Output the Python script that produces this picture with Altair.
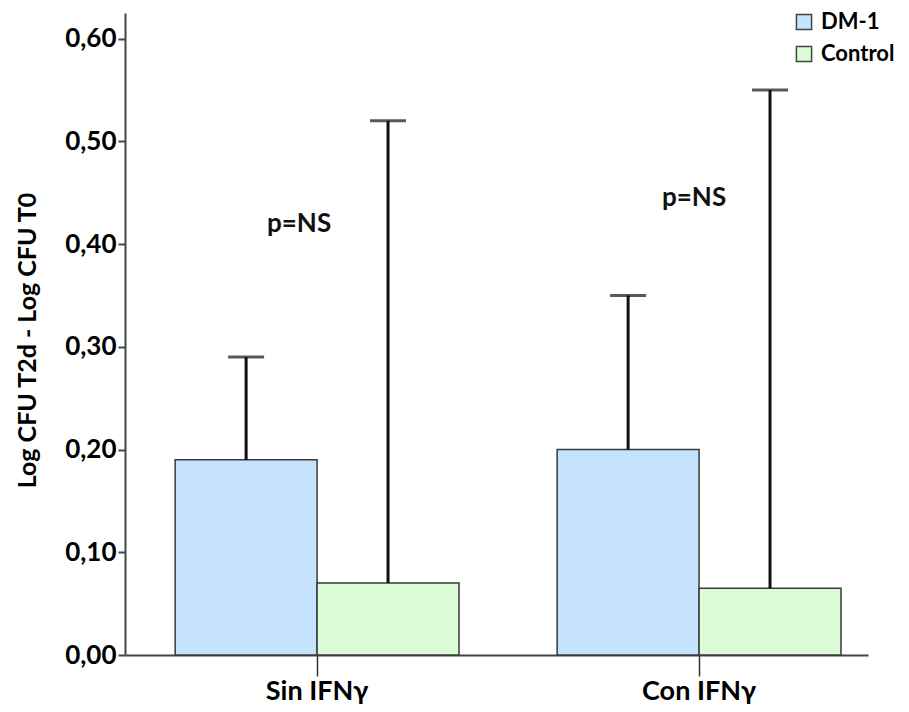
import altair as alt
import pandas as pd

categories = ["Sin IFNγ", "Sin IFNγ", "Con IFNγ", "Con IFNγ"]
groups = ["DM-1", "Control", "DM-1", "Control"]
means = [0.19, 0.07, 0.20, 0.065]
uppers = [0.29, 0.52, 0.35, 0.55]

note_categories = ["Sin IFNγ", "Con IFNγ"]
note_values = [0.42, 0.445]
note_texts = ["p=NS", "p=NS"]

cat_order = ["Sin IFNγ", "Con IFNγ"]
group_order = ["DM-1", "Control"]
colors = ["#c5e3fd", "#dcfcd8"]

df = pd.DataFrame({"cat": categories, "group": groups, "mean": means, "upper": uppers})
notes = pd.DataFrame({"cat": note_categories, "y": note_values, "t": note_texts})

FONT = "Lato"
W, H = 743, 642

xscale = alt.Scale(domain=cat_order, paddingInner=0.257, paddingOuter=0.101, align=0.65)
x = alt.X("cat:N", scale=xscale, sort=cat_order,
          axis=alt.Axis(title=None, labelAngle=0, labelFontSize=27, labelFont=FONT,
                        labelFontWeight="bold", labelColor="#000", tickSize=21,
                        tickColor="#333", tickWidth=1.5, domainColor="#444", domainWidth=2,
                        labelPadding=2, grid=False))
xoff = alt.XOffset("group:N", sort=group_order, scale=alt.Scale(domain=group_order, paddingInner=0, paddingOuter=0))
yscale = alt.Scale(domain=[0, 0.625], nice=False, zero=True)

bars = alt.Chart(df).mark_bar(stroke="#3a3a3a", strokeWidth=1.5).encode(
    x=x,
    xOffset=xoff,
    y=alt.Y("mean:Q", scale=yscale,
            axis=alt.Axis(title="Log CFU T2d - Log CFU T0", values=[0, 0.1, 0.2, 0.3, 0.4, 0.5, 0.6],
                          labelExpr="replace(format(datum.value, '.2f'), '.', ',')",
                          labelFontSize=26, labelFont=FONT, labelFontWeight="bold", labelColor="#000",
                          tickSize=7, tickColor="#444", tickWidth=2, domainColor="#444", domainWidth=2,
                          titleFont=FONT, titleFontSize=25, titleFontWeight="bold", titleColor="#000",
                          titleX=-85, titleY=327, grid=False, labelPadding=2)),
    color=alt.Color("group:N", sort=group_order,
                    scale=alt.Scale(domain=group_order, range=colors),
                    legend=alt.Legend(title=None, orient="none", legendX=668, legendY=-2,
                                      symbolType="square", symbolSize=230, symbolStrokeColor="#444",
                                      symbolStrokeWidth=1.5, labelFont=FONT, labelFontSize=22,
                                      labelFontWeight="bold", labelColor="#000", rowPadding=10,
                                      labelOffset=6)),
)

rules = alt.Chart(df).mark_rule(color="#111", strokeWidth=3).encode(
    x=alt.X("cat:N", scale=xscale, sort=cat_order),
    xOffset=xoff,
    y=alt.Y("mean:Q", scale=yscale),
    y2="upper:Q",
)

caps = alt.Chart(df).mark_tick(color="#111", thickness=3, size=36).encode(
    x=alt.X("cat:N", scale=xscale, sort=cat_order),
    xOffset=xoff,
    y=alt.Y("upper:Q", scale=yscale),
)

text_sin = alt.Chart(notes).transform_filter(alt.datum.cat == "Sin IFNγ").mark_text(
    font=FONT, fontSize=26, fontWeight="bold", color="#111", dx=-18).encode(
    x=alt.X("cat:N", scale=xscale, sort=cat_order),
    y=alt.Y("y:Q", scale=yscale),
    text="t:N",
)
text_con = alt.Chart(notes).transform_filter(alt.datum.cat == "Con IFNγ").mark_text(
    font=FONT, fontSize=26, fontWeight="bold", color="#111", dx=-5).encode(
    x=alt.X("cat:N", scale=xscale, sort=cat_order),
    y=alt.Y("y:Q", scale=yscale),
    text="t:N",
)

chart = alt.layer(bars, rules, caps, text_sin, text_con).properties(
    width=W, height=H,
    background="white",
    autosize=alt.AutoSizeParams(type="none"),
    padding={"left": 117, "top": 5, "right": 33, "bottom": 49},
).configure_view(stroke=None)

chart.save("out.html", embed_options={"renderer": "svg", "actions": False})
